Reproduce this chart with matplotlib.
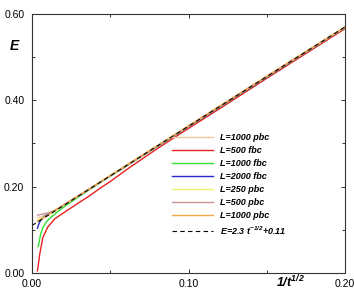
import matplotlib
matplotlib.use("Agg")
import matplotlib.pyplot as plt
from matplotlib.ticker import MultipleLocator, FormatStrFormatter

plt.rcParams['font.family'] = ['Liberation Sans', 'DejaVu Sans']
plt.rcParams['mathtext.fontset'] = 'custom'
plt.rcParams['mathtext.it'] = 'Liberation Sans:bold:italic'
plt.rcParams['mathtext.rm'] = 'Liberation Sans:bold:italic'
plt.rcParams['mathtext.bf'] = 'Liberation Sans:bold:italic'
plt.rcParams['mathtext.default'] = 'it'

# curves: x = 1/t^(1/2), E
x_tan = [0.0035, 0.006, 0.010, 0.020, 0.040, 0.080, 0.120, 0.160, 0.200]
e_tan = [0.128, 0.131, 0.137, 0.157, 0.202, 0.294, 0.386, 0.478, 0.569]

x_red = [0.0035, 0.005, 0.007, 0.010, 0.0147, 0.020, 0.025, 0.030, 0.036, 0.045,
         0.050, 0.0626, 0.080, 0.100, 0.120, 0.150, 0.200]
e_red = [0.005, 0.045, 0.083, 0.106, 0.126, 0.139, 0.151, 0.163, 0.177, 0.200,
         0.212, 0.245, 0.288, 0.335, 0.381, 0.451, 0.566]

x_green = [0.004, 0.0055, 0.0072, 0.0095, 0.0115, 0.015, 0.020, 0.030, 0.040,
           0.060, 0.080, 0.100, 0.150, 0.200]
e_green = [0.061, 0.090, 0.107, 0.120, 0.127, 0.138, 0.152, 0.177, 0.201,
           0.247, 0.293, 0.339, 0.454, 0.569]

x_blue = [0.0035, 0.0045, 0.006, 0.0083, 0.011, 0.015, 0.020, 0.030, 0.050, 0.100, 0.200]
e_blue = [0.104, 0.115, 0.125, 0.132, 0.137, 0.145, 0.156, 0.179, 0.225, 0.339, 0.569]

x_yel = [0.0035, 0.006, 0.010, 0.020, 0.040, 0.080, 0.120, 0.160, 0.200]
e_yel = [0.122, 0.126, 0.133, 0.156, 0.202, 0.294, 0.386, 0.478, 0.569]

x_brown = [0.0035, 0.006, 0.010, 0.015, 0.020, 0.040, 0.080, 0.120, 0.160, 0.200]
e_brown = [0.134, 0.136, 0.139, 0.146, 0.157, 0.202, 0.294, 0.386, 0.478, 0.569]

x_orange = [0.0035, 0.006, 0.010, 0.020, 0.040, 0.080, 0.120, 0.160, 0.200]
e_orange = [0.119, 0.125, 0.134, 0.157, 0.203, 0.295, 0.387, 0.479, 0.570]

# fit E = a t^-1/2 + b
fit_a = 2.3
fit_b = 0.11
fit_x = [0.0, 0.2]

fig = plt.figure(figsize=(3.54, 2.92), dpi=100)
ax = fig.add_axes([32/354, 19/292, 313/354, 259/292])

lw = 1.0
ax.plot(x_tan, e_tan, color='#f2c8a0', lw=lw, label='L=1000 pbc')
ax.plot(x_red, e_red, color='#e82020', lw=lw, label='L=500 fbc')
ax.plot(x_green, e_green, color='#30e030', lw=lw, label='L=1000 fbc')
ax.plot(x_blue, e_blue, color='#2828c8', lw=lw, label='L=2000 fbc')
ax.plot(x_yel, e_yel, color='#f0f070', lw=lw, label='L=250 pbc')
ax.plot(x_brown, e_brown, color='#c89898', lw=lw, label='L=500 pbc')
ax.plot(x_orange, e_orange, color='#f0a848', lw=lw, label='L=1000 pbc')
ax.plot(fit_x, [fit_a*v + fit_b for v in fit_x], color='black', lw=0.8,
        dashes=(4, 3), label='E=2.3 t$^{-1/2}$+0.11')

ax.set_xlim(0, 0.2)
ax.set_ylim(0, 0.6)
ax.xaxis.set_major_locator(MultipleLocator(0.1))
ax.xaxis.set_minor_locator(MultipleLocator(0.05))
ax.yaxis.set_major_locator(MultipleLocator(0.2))
ax.yaxis.set_minor_locator(MultipleLocator(0.1))
ax.xaxis.set_major_formatter(FormatStrFormatter('%.2f'))
ax.yaxis.set_major_formatter(FormatStrFormatter('%.2f'))
ax.tick_params(which='both', direction='in', top=True, right=True,
               labelsize=7.5, width=0.7, color='#333333')
ax.tick_params(which='major', length=3)
ax.tick_params(axis='x', which='major', pad=4)
ax.tick_params(axis='y', which='major', pad=5.5)
ax.tick_params(which='minor', length=2)
for s in ax.spines.values():
    s.set_linewidth(0.8)
    s.set_color('#333333')

leg = ax.legend(loc='center left', bbox_to_anchor=(172/354, 1 - 184.7/292),
                bbox_transform=fig.transFigure, frameon=False, borderpad=0,
                borderaxespad=0, handlelength=4.5, handletextpad=0.85,
                labelspacing=0.45,
                prop={'size': 6.5, 'weight': 'bold', 'style': 'italic'})

fig.text(14/354, 1 - 46/292, 'E', fontsize=10, fontweight='bold',
         fontstyle='italic', ha='center', va='center')
fig.text(290/354, 1 - 282/292, '1/t$^{1/2}$', fontsize=9, fontweight='bold',
         fontstyle='italic', ha='center', va='center')

fig.savefig('out.png', dpi=100)
